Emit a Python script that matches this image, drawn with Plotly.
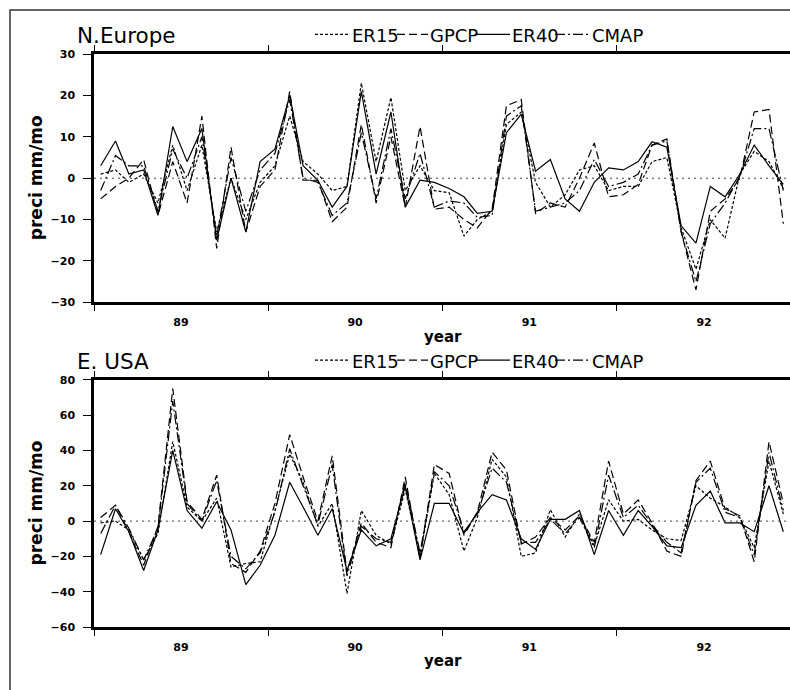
import pandas as pd
import plotly.graph_objects as go

# Monthly anomalies, Jan 1989 - Dec 1992 (mm/mo)
months = pd.date_range("1989-01-01", periods=48, freq="MS") + pd.Timedelta(days=14)

ne_er15 = [1, 2, -1, 1, -6, 8, -3, 8, -13, 0, -10, -1, 3, 15, 4, 1, -3, -2, 23, 4,
           19.5, -3, 3, -3, -3.5, -14, -10, -8, 13, 16, -1, -7, -4, 2, 3, -3, -2, -2, 4, 5,
           -12, -22, -10, -14.5, 1, 6.5, 4, -2.5]
ne_gpcp = [-5, -2, 0, 4.5, -9, 4, -6, 15, -17, 7.5, -13, -2, 2, 21, -0.5, -0.5, -10.5, -7, 13, -6,
           10, -7, 12.5, -7.5, -7, -10, -12, -7.5, 17.5, 19, -8.5, -6, -7, 0, 8.5, -4.5, -4, -1.5, 8, 9.5,
           -13, -27, -8, -5, 0, 16, 16.6, -11]
ne_er40 = [3, 9, 1, 2, -9, 12.5, 4, 12, -15, 0, -13, 4, 7, 20, 3, -0.5, -7, -2, 21, 1,
           16, -7, -0.5, -1, -2.5, -4.5, -8.5, -8, 11, 15.5, 1.7, 4.5, -5, -8, -1, 2.5, 2, 4, 8.8, 7.5,
           -11.5, -15.7, -2, -4.5, 1, 8, 3, -1.5]
ne_cmap = [-3, 5.5, 3, 3, -8, 7, 0, 10, -14, 5, -8, 2, 6, 19, 0, -1, -9, -6, 11, -5,
           12, -5, 6, -7, -5.5, -6, -9.5, -9, 15, 17.5, -8, -7, -6, -3, 4.5, -2, -1, 1, 8, 9,
           -13, -25, -11, -6, 0.5, 12, 12, -3]

us_er15 = [-1, 0, -5, -22, -7, 45, 8, 0, 13, -26, -24, -23, 6, 38, 22, -3, 10, -41, 6, -8,
           -13, 18, -20, 27, 15, -17, 2, 35, 25, -20, -18, 6.5, -9, 4, -14, 12, 0, 1, -5, -10,
           -11, 20, 13, 8, 2, -15, 34, 4]
us_gpcp = [2, 9, -6, -25, -3, 75, 11, 1, 26, -24, -29, -17, 10, 49, 25, 0, 37, -29, -1, -12,
           -15, 25, -21, 32, 27, -8, 5, 39, 29, -13, -9, 2, -5, 3, -12, 34, 4, 12, -1, -17,
           -20, 23, 34, 7, 3, -23, 45, 10]
us_er40 = [-19, 7, -6, -28, -5, 40, 6, -4, 11, -5, -36, -25, -8, 22, 8, -8, 7, -28, -5, -14,
           -10, 20, -22, 10, 10, -7, 5, 15, 12, -10, -16, 1, 1, 6, -19, 6, -8, 6, -3, -14,
           -15, 9, 17, -1, -1, -6, 20, -6]
us_cmap = [-7, 9, -4, -22, -4, 68, 10, 0, 23, -20, -27, -18, 5, 41, 20, -2, 32, -31, -3, -10,
           -12, 22, -18, 28, 20, -6, 4, 30, 22, -12, -12, 1, -7, 2, -15, 26, 2, 9, -2, -12,
           -18, 22, 30, 5, 2, -19, 39, 6]

year_ticks = ["1989-07-02", "1990-07-02", "1991-07-02", "1992-07-02"]
year_labels = ["89", "90", "91", "92"]
year_starts = ["1989-01-01", "1990-01-01", "1991-01-01", "1992-01-01"]

series_names = ["ER15", "GPCP", "ER40", "CMAP"]
series_dash = ["3px,2px", "8px,4px", "solid", "10px,3px,2px,3px"]

W, H = 790, 690
FONT = "DejaVu Sans"


def px(x):
    return x / W


def py(y):
    return 1 - y / H


fig = go.Figure()

panels = [
    dict(name="N.Europe", data=[ne_er15, ne_gpcp, ne_er40, ne_cmap], xa="x", ya="y",
         top=49, bottom=302, yr=[-30, 30], dt=10),
    dict(name="E. USA", data=[us_er15, us_gpcp, us_er40, us_cmap], xa="x2", ya="y2",
         top=381, bottom=633, yr=[-60, 80], dt=20),
]

shapes = []
annotations = []

for k, p in enumerate(panels):
    for vals, nm, dash in zip(p["data"], series_names, series_dash):
        fig.add_trace(go.Scatter(
            x=months, y=vals, mode="lines", name=nm, showlegend=False,
            line=dict(color="black", width=1.2, dash=dash),
            xaxis=p["xa"], yaxis=p["ya"],
        ))

    suffix = "" if k == 0 else "2"
    dom_y = [py(p["bottom"]), py(p["top"])]
    fig.update_layout(**{
        "xaxis" + suffix: dict(
            domain=[px(94), 1], anchor="y" + suffix,
            range=["1989-01-01", "1992-12-29"],
            tickmode="array", tickvals=year_ticks, ticktext=year_labels,
            ticks="outside", ticklen=0, tickcolor="black",
            minor=dict(tickmode="array", tickvals=year_starts, ticks="outside",
                       ticklen=6, tickwidth=1.2, tickcolor="black"),
            showline=True, linewidth=2.5, linecolor="black", mirror="ticks",
            showgrid=False, zeroline=False,
            tickfont=dict(family=FONT, size=11, color="black", weight="bold"),
            ticklabelstandoff=8,
        ),
        "yaxis" + suffix: dict(
            domain=dom_y, anchor="x" + suffix,
            range=p["yr"], dtick=p["dt"], tick0=0,
            ticks="outside", ticklen=8, tickwidth=1.2, tickcolor="black",
            showline=True, linewidth=2.5, linecolor="black",
            showgrid=False, zeroline=False,
            tickfont=dict(family=FONT, size=11, color="black", weight="bold"),
            ticklabelstandoff=6,
        ),
    })

    # dotted zero reference line
    shapes.append(dict(type="line", xref="x" + suffix + " domain", yref="y" + suffix,
                       x0=0, x1=1, y0=0, y1=0,
                       line=dict(color="#444", width=1, dash="2px,4px")))

    ty = p["top"] - 19
    annotations.append(dict(text=p["name"], x=px(75), y=py(ty), xref="paper", yref="paper",
                            xanchor="left", yanchor="middle", showarrow=False,
                            font=dict(family=FONT, size=21.5, color="black")))
    # inline key: line sample followed by the series name
    samples = [(315, 349), (397, 428), (476, 510), (555, 590)]
    text_x = [350, 428, 510, 590]
    for (sx0, sx1), tx, nm, dash in zip(samples, text_x, series_names, series_dash):
        shapes.append(dict(type="line", xref="paper", yref="paper",
                           x0=px(sx0), x1=px(sx1), y0=py(ty - 1), y1=py(ty - 1),
                           line=dict(color="black", width=1.2, dash=dash)))
        annotations.append(dict(text=nm, x=px(tx), y=py(ty), xref="paper", yref="paper",
                                xanchor="left", yanchor="middle", showarrow=False,
                                font=dict(family=FONT, size=18, color="black")))

    annotations.append(dict(text="preci mm/mo", x=px(36), y=py((p["top"] + p["bottom"]) / 2),
                            xref="paper", yref="paper", textangle=-90,
                            xanchor="center", yanchor="middle", showarrow=False,
                            font=dict(family=FONT, size=17, color="black", weight="bold")))
    annotations.append(dict(text="year", x=px(443), y=py(p["bottom"] + 35),
                            xref="paper", yref="paper",
                            xanchor="center", yanchor="middle", showarrow=False,
                            font=dict(family=FONT, size=15, color="black", weight="bold")))

# outer frame
shapes.append(dict(type="rect", xref="paper", yref="paper",
                   x0=px(10), x1=1.2, y0=-0.2, y1=py(4),
                   line=dict(color="#333", width=1.5)))

fig.update_layout(
    width=W, height=H,
    margin=dict(l=0, r=0, t=0, b=0),
    paper_bgcolor="white", plot_bgcolor="white",
    shapes=shapes, annotations=annotations,
    showlegend=False,
    font=dict(family=FONT, color="black"),
)

fig.write_html("out.html")
